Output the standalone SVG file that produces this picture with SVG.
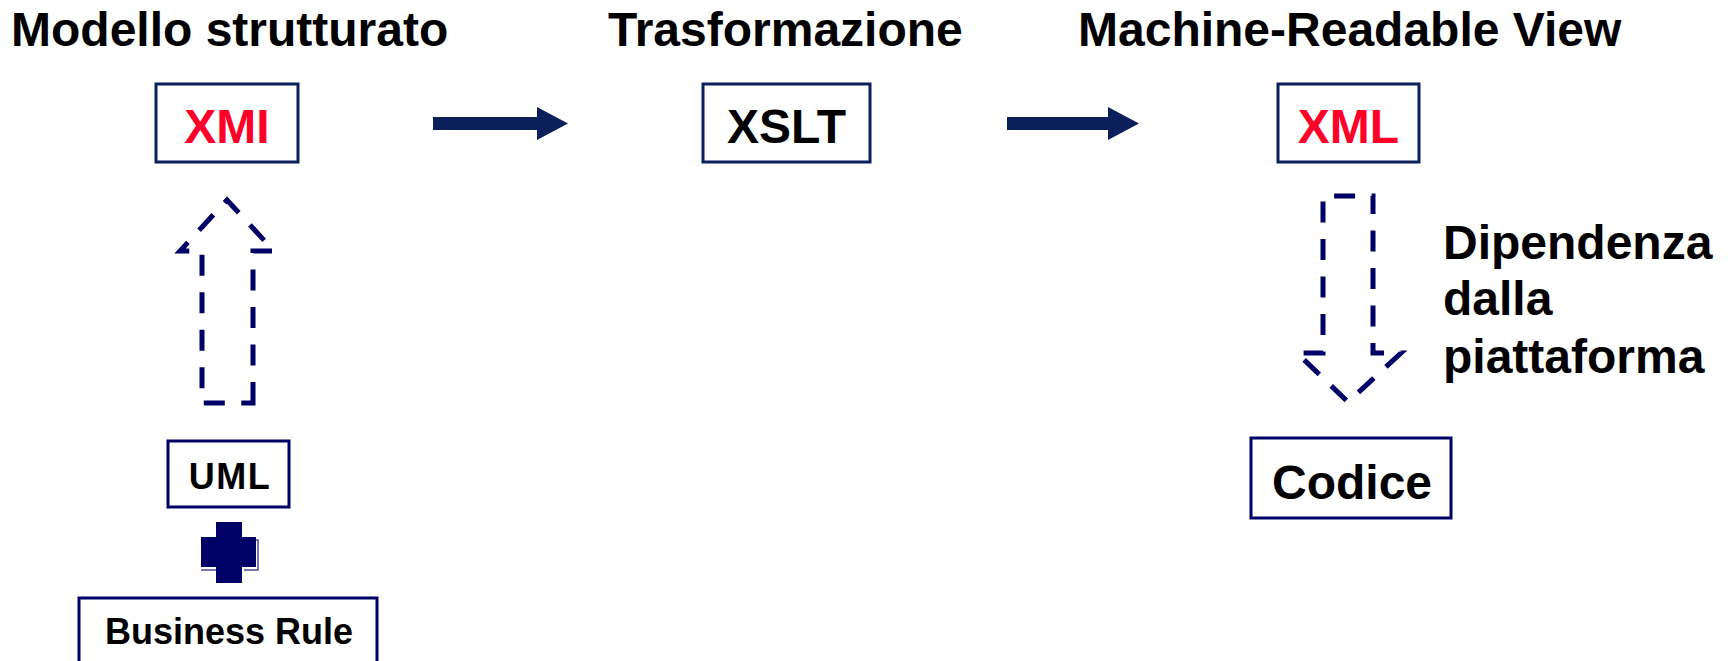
<svg xmlns="http://www.w3.org/2000/svg" width="1728" height="661" viewBox="0 0 1728 661">
  <style>
    .title { font-family: "Liberation Sans", Arial, sans-serif; font-weight: bold; font-size: 48px; fill: #000; }
    .lbl { font-family: "Liberation Sans", Arial, sans-serif; font-weight: bold; fill: #000; text-anchor: middle; }
    .red { fill: #FF0029; }
    .box { fill: #fff; stroke: #0B1F5B; stroke-width: 3; }
    .box2 { fill: #fff; stroke: #000066; stroke-width: 3; }
    .flow { fill: #0B1F5B; }
    .dash { fill: none; stroke: #000066; stroke-width: 5; stroke-dasharray: 21 16.5; }
  </style>

  <!-- column headings -->
  <g id="headings">
    <text class="title" x="11" y="46">Modello strutturato</text>
    <text class="title" x="608" y="46">Trasformazione</text>
    <text class="title" x="1078" y="46">Machine-Readable View</text>
  </g>

  <g id="xmi">
    <rect class="box" x="156" y="84" width="142" height="78"/>
    <text class="lbl red" x="227" y="143" font-size="48">XMI</text>
  </g>

  <g id="xslt">
    <rect class="box" x="703" y="84" width="167" height="78"/>
    <text class="lbl" x="786.5" y="143" font-size="48">XSLT</text>
  </g>

  <g id="xml">
    <rect class="box" x="1278" y="84" width="141" height="78"/>
    <text class="lbl red" x="1348.5" y="143" font-size="48">XML</text>
  </g>

  <g id="uml">
    <rect class="box2" x="168" y="441" width="121" height="66"/>
    <text class="lbl" x="230" y="489" font-size="36" letter-spacing="1.5">UML</text>
  </g>

  <!-- plus sign with a thin offset outline on its lower right -->
  <g id="plus">
    <polyline points="256,540 258,540 258,570 244,570" fill="none" stroke="#4a4a9a" stroke-width="1.5"/>
    <polyline points="201,570 216,570" fill="none" stroke="#4a4a9a" stroke-width="1.5"/>
    <path d="M216,522 H242 V537 H256 V567 H242 V583 H216 V567 H201 V537 H216 Z" fill="#000066"/>
  </g>

  <g id="business-rule">
    <rect class="box2" x="79" y="598" width="298" height="70"/>
    <text class="lbl" x="229" y="644" font-size="36">Business Rule</text>
  </g>

  <g id="codice">
    <rect class="box2" x="1251" y="438" width="200" height="80"/>
    <text class="lbl" x="1352" y="499" font-size="48">Codice</text>
  </g>

  <g id="dipendenza-label">
    <text class="title" x="1443" y="259">Dipendenza</text>
    <text class="title" x="1443" y="315">dalla</text>
    <text class="title" x="1443" y="373">piattaforma</text>
  </g>

  <!-- connectors -->
  <g id="connectors">
    <path class="flow" d="M433,117 H537 V107 L568,123.5 L537,140 V130 H433 Z"/>
    <path class="flow" d="M1007,117 H1108 V107 L1139,123.5 L1108,140 V130 H1007 Z"/>
    <path class="dash" d="M253,403 V251 H274 L227,200 L180,251 H202 V403 Z"/>
    <path class="dash" stroke-dashoffset="3" d="M1373,196 V353 H1401 L1348,402 L1297,353 H1323 V196 Z"/>
  </g>
</svg>
